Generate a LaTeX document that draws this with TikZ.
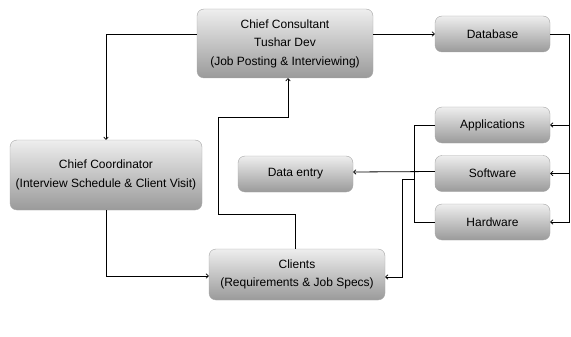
\documentclass[tikz,border=0pt]{standalone}
\usepackage{fontspec}
\setmainfont{Liberation Sans}
\usepackage{tikz}
\usetikzlibrary{arrows.meta,positioning,calc}
\definecolor{BoxTop}{HTML}{EEEEEE}
\definecolor{BoxBottom}{HTML}{9A9A9A}
\definecolor{BoxStroke}{HTML}{A6A6A6}

\tikzset{
  unit/.style={draw=BoxStroke, rounded corners=7pt, top color=BoxTop, bottom color=BoxBottom,
    align=center, inner sep=2pt, font=\fontsize{12}{18.5}\selectfont},
  link/.style={-{To[length=3pt,width=5pt]}, line width=0.8pt},
  plain/.style={line width=0.8pt}
}

\begin{document}
\begin{tikzpicture}[x=1pt, y=-1pt]
  \useasboundingbox (0,0) rectangle (571,337);

  \node[unit, minimum width=176pt, minimum height=69pt] (cons) at (285,43.5) {Chief Consultant\\Tushar Dev\\(Job Posting \& Interviewing)};
  \node[unit, minimum width=115pt, minimum height=36pt] (db) at (492.5,34) {Database};
  \node[unit, minimum width=115pt, minimum height=36pt] (app) at (492.5,125) {Applications};
  \node[unit, minimum width=115pt, minimum height=36pt] (soft) at (492.5,173.5) {Software};
  \node[unit, minimum width=115pt, minimum height=36pt] (hw) at (492.5,222) {Hardware};
  \node[unit, minimum width=115pt, minimum height=36pt] (entry) at (295.5,174) {Data entry};
  \node[unit, minimum width=192pt, minimum height=70pt] (coord) at (106,175) {Chief Coordinator\\(Interview Schedule \& Client Visit)};
  \node[unit, minimum width=176pt, minimum height=51pt] (clients) at (297,274.5) {Clients\\(Requirements \& Job Specs)};

  % consultant to coordinator and database
  \draw[link] ([yshift=9.5pt]cons.west) -| (coord.north);
  \draw[link] ([yshift=9.5pt]cons.east) -- (db.west);

  % database feeds the three units on the right
  \coordinate (rbus) at ($(db.east)+(19,0)$);
  \draw[link] (db.east) -- (rbus) |- (hw.east);
  \draw[link] (rbus|-app.east) -- (app.east);
  \draw[link] (rbus|-soft.east) -- (soft.east);

  % left side of the units
  \coordinate (lbus) at ($(app.west)+(-20,0)$);
  \draw[plain] (app.west) -- (lbus) |- (hw.west);
  \draw[link] ([yshift=2pt]soft.west) -- ([yshift=2pt]entry.east);
  \draw[link] ([yshift=-5.5pt]soft.west -| lbus) -- ++(-12,0) |- ([yshift=-2.5pt]clients.east);

  % coordinator and clients
  \draw[link] (coord.south) |- ([yshift=-1.5pt]clients.west);
  \draw[link] ([xshift=-2pt]clients.north) -- ++(0,-34) -- ++(-77,0) -- ++(0,-97) -| ([xshift=3pt]cons.south);
\end{tikzpicture}
\end{document}
